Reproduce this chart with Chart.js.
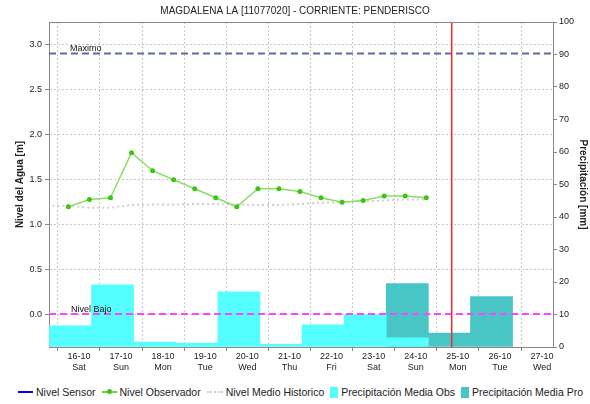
<!DOCTYPE html>
<html>
<head>
<meta charset="utf-8">
<script src="https://cdn.jsdelivr.net/npm/chart.js@4/dist/chart.umd.min.js"></script>
<style>
  body{margin:0;background:#fff;font-family:"Liberation Sans",Arial,sans-serif;}
  #wrap{width:590px;height:404px;position:relative;overflow:hidden;}
  #legend{position:absolute;left:18px;top:386px;display:flex;align-items:center;gap:6px;font-size:10.5px;color:#222;white-space:nowrap;}
  #legend .it{display:flex;align-items:center;}
  #legend .sw{display:inline-block;margin-right:3px;}
</style>
</head>
<body>
<div id="wrap">
  <canvas id="chart" width="590" height="380"></canvas>
  <div id="legend">
    <span class="it"><span class="sw" style="width:15px;height:0;border-top:2px solid #0000ff"></span>Nivel Sensor</span>
    <span class="it"><span class="sw" style="width:15px;height:0;border-top:2px solid #6ad048;position:relative"><span style="position:absolute;left:5px;top:-4px;width:5px;height:5px;background:#3cc414;border-radius:50%"></span></span>Nivel Observador</span>
    <span class="it"><span class="sw" style="width:16px;height:0;border-top:2px dotted #cfcfcf"></span>Nivel Medio Historico</span>
    <span class="it"><span class="sw" style="width:8px;height:11px;background:#55ffff"></span>Precipitación Media Obs</span>
    <span class="it"><span class="sw" style="width:8px;height:11px;background:#48c6c6"></span>Precipitación Media Pro</span>
  </div>
</div>
<script>
// dias (0 = 16-10)
var dayLabels=['16-10','17-10','18-10','19-10','20-10','21-10','22-10','23-10','24-10','25-10','26-10','27-10'];
var weekDays=['Sat','Sun','Mon','Tue','Wed','Thu','Fri','Sat','Sun','Mon','Tue','Wed'];

// nivel observador (lecturas 6h / 18h)
var obsTime=[-0.25,0.25,0.75,1.25,1.75,2.25,2.75,3.25,3.75,4.25,4.75,5.25,5.75,6.25,6.75,7.25,7.75,8.25];
var obsLevel=[1.20,1.28,1.30,1.80,1.60,1.50,1.40,1.30,1.20,1.40,1.40,1.37,1.30,1.25,1.27,1.32,1.32,1.30];

// nivel medio historico
var histTime=[-0.75,-0.25,0.25,0.75,1.25,1.75,2.25,2.75,3.25,3.75,4.25,4.75,5.25,5.75,6.25,6.75,7.25,7.75,8.25];
var histLevel=[1.21,1.21,1.19,1.19,1.22,1.225,1.225,1.23,1.23,1.225,1.22,1.22,1.23,1.245,1.25,1.26,1.27,1.28,1.28];

// precipitacion [mm] por dia
var obsPrecipDay=[0,1,2,3,4,5,6,7,8];
var obsPrecip=[6.5,19.1,1.5,1.2,17.0,0.8,6.8,10.0,2.8];
var proPrecipDay=[8,9,10];
var proPrecip=[19.5,4.3,15.5];

var nivelMaximo=2.9;
var nivelBajo=0.01;
var ahora=8.83;
var barShift=-0.2; // acumulado 7am a 7am

Chart.defaults.font.family='"Liberation Sans", Arial, sans-serif';
Chart.defaults.color='#222';

var refLines={
  id:'refLines',
  afterDatasetsDraw:function(chart){
    var c=chart.ctx, a=chart.chartArea, y=chart.scales.y, x=chart.scales.x;
    c.save();
    c.beginPath();c.rect(a.left,a.top,a.right-a.left,a.bottom-a.top);c.clip();
    c.lineWidth=2;c.setLineDash([7,4]);
    var ym=y.getPixelForValue(nivelMaximo);
    c.strokeStyle='#5a6e9e';
    c.beginPath();c.moveTo(a.left,ym);c.lineTo(a.right,ym);c.stroke();
    var yb=y.getPixelForValue(nivelBajo);
    c.strokeStyle='#ff44ff';
    c.beginPath();c.moveTo(a.left,yb);c.lineTo(a.right,yb);c.stroke();
    c.fillStyle='#111';c.font='9px "Liberation Sans", Arial, sans-serif';
    c.textBaseline='bottom';
    c.fillText('Maximo',a.left+21,ym-1);
    c.fillText('Nivel Bajo',a.left+22,yb);
    c.restore();
    // linea de fecha actual
    var xn=Math.round(x.getPixelForValue(ahora));
    c.save();
    c.fillStyle='#ff2020';
    c.fillRect(xn,a.top,1,a.bottom-a.top);
    c.fillStyle='rgba(255,40,40,0.45)';
    c.fillRect(xn+1,a.top,1,a.bottom-a.top);
    c.fillStyle='#888';
    c.fillRect(a.left,a.top,a.right-a.left,1);
    c.restore();
  }
};

var ctx=document.getElementById('chart').getContext('2d');
var chart=new Chart(ctx,{
  type:'line',
  data:{
    datasets:[
      {label:'Nivel Sensor',data:[],borderColor:'#0000ff',borderWidth:1,pointRadius:0,order:0},
      {label:'Nivel Observador',data:obsTime.map(function(t,i){return {x:t,y:obsLevel[i]};}),
        borderColor:'#88dd66',borderWidth:1.5,pointRadius:2.5,pointStyle:'circle',
        pointBackgroundColor:'#3cc414',pointBorderColor:'#3cc414',pointBorderWidth:0,order:0},
      {label:'Nivel Medio Historico',data:histTime.map(function(t,i){return {x:t,y:histLevel[i]};}),
        borderColor:'#cfcfcf',borderWidth:2,borderDash:[2,3],pointRadius:0,order:0},
      {type:'bar',label:'Precipitación Media Obs',yAxisID:'y2',order:1,
        data:obsPrecipDay.map(function(d,i){return {x:d+barShift,y:obsPrecip[i]};}),
        backgroundColor:'#55ffff',borderWidth:0,barPercentage:1,categoryPercentage:1,grouped:false},
      {type:'bar',label:'Precipitación Media Pro',yAxisID:'y2',order:2,
        data:proPrecipDay.map(function(d,i){return {x:d+barShift,y:proPrecip[i]};}),
        backgroundColor:'#48c6c6',borderWidth:0,barPercentage:1,categoryPercentage:1,grouped:false}
    ]
  },
  options:{
    responsive:false,
    animation:false,
    layout:{padding:0},
    plugins:{
      legend:{display:false},
      tooltip:{enabled:false},
      title:{display:true,text:'MAGDALENA LA [11077020] - CORRIENTE: PENDERISCO',
        font:{size:10,weight:'normal'},color:'#222',padding:{top:5,bottom:5}}
    },
    scales:{
      x:{type:'linear',min:-0.71,max:11.26,offset:false,
        afterFit:function(s){s.height=33;},
        grid:{color:'#c8c8c8',tickLength:4,tickColor:'#888',tickBorderDash:[]},
        border:{display:true,color:'#888',dash:[2,2]},
        ticks:{stepSize:1,includeBounds:false,autoSkip:false,maxRotation:0,padding:0,font:{size:9},
          callback:function(v){return (Number.isInteger(v)&&v>=0&&v<dayLabels.length)?[dayLabels[v],weekDays[v]]:'';}}
      },
      y:{position:'left',min:-0.356,max:3.25,
        afterFit:function(s){s.width=49;},
        grid:{color:'#c8c8c8',tickLength:4,tickColor:'#888',tickBorderDash:[]},
        border:{display:true,color:'#888',dash:[2,2]},
        ticks:{stepSize:0.5,includeBounds:false,padding:3,font:{size:9},callback:function(v){return v.toFixed(1);}},
        title:{display:true,text:'Nivel del Agua [m]',font:{size:10,weight:'bold'},padding:{top:14}}
      },
      y2:{position:'right',min:0,max:100,
        afterFit:function(s){s.width=37;},
        grid:{drawOnChartArea:false,tickLength:4,color:'#888'},
        border:{display:true,color:'#888'},
        ticks:{stepSize:10,padding:2,font:{size:9}},
        title:{display:true,text:'Precipitación [mm]',font:{size:10,weight:'bold'},padding:{top:1}}
      }
    }
  },
  plugins:[refLines]
});
</script>
</body>
</html>
